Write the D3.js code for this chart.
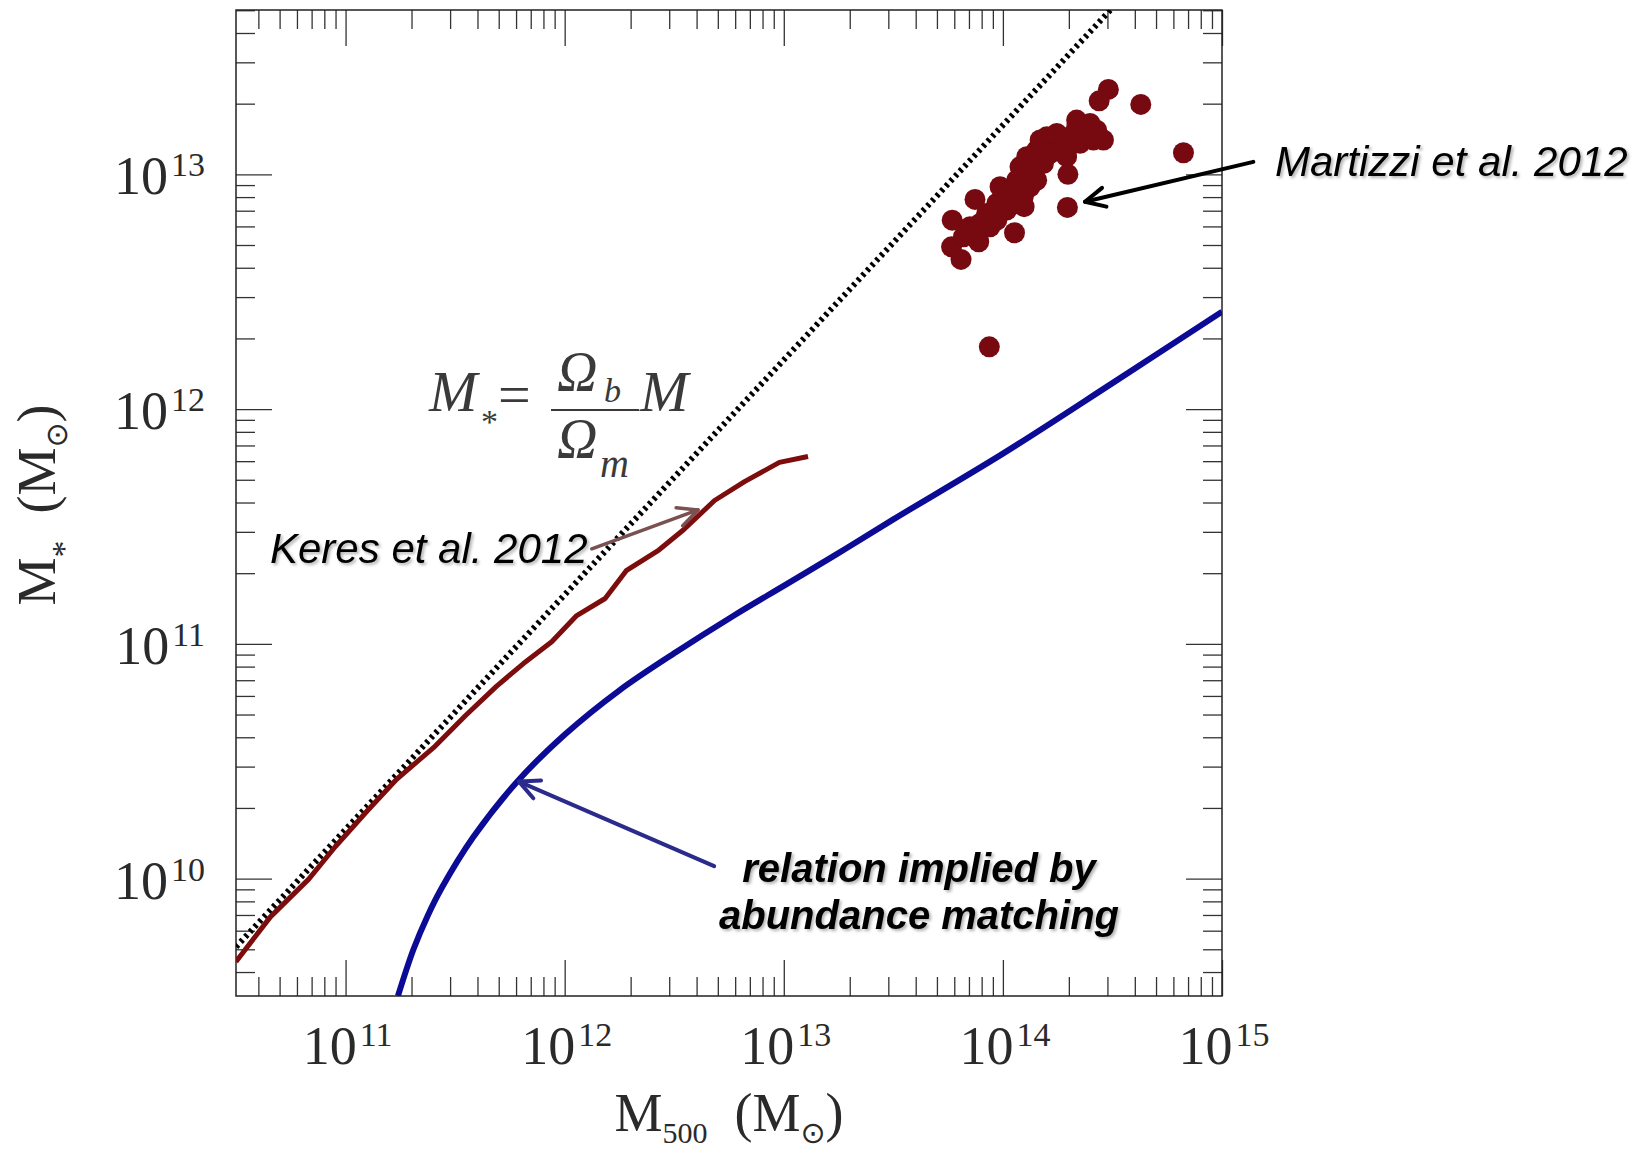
<!DOCTYPE html>
<html>
<head>
<meta charset="utf-8">
<script src="https://cdn.jsdelivr.net/npm/d3@7"></script>
<style>
	html, body { margin: 0; padding: 0; background: #fff; }
	svg { display: block; }
	.tick line { stroke: #333; stroke-width: 1.3; }
	.domain { display: none; }
	.tick-label { font-family: 'Liberation Serif', serif; fill: #2a2a2a; }
	.axis-title { font-family: 'Liberation Serif', serif; fill: #2a2a2a; }
	.formula { font-family: 'Liberation Serif', serif; font-style: italic; fill: #3a3a3a; }
	.note { font-family: 'Liberation Sans', Arial, sans-serif; font-style: italic; fill: #000; }
</style>
</head>
<body>
<svg id="chart" width="1650" height="1152"></svg>
<script>
(function () {
	'use strict';

	var margin = { left: 236, top: 10 };
	var width = 986;
	var height = 986;

	var xDomain = [3.162e10, 1e15];
	var yDomain = [3.162e9, 5.012e13];

	var xMajorTicks = [1e11, 1e12, 1e13, 1e14, 1e15];
	var yMajorTicks = [1e10, 1e11, 1e12, 1e13];
	var xTickExponents = ['11', '12', '13', '14', '15'];
	var yTickExponents = ['10', '11', '12', '13'];

	// M* = (Omega_b / Omega_m) M, read at the two ends
	var baryonM500 = [3.162e10, 1e15];
	var baryonMstar = [5.12e9, 1.62e14];

	// Keres et al. 2012
	var keresM500 = [3.16e10, 4.54e10, 6.79e10, 8.99e10, 1.26e11, 1.71e11, 2.56e11, 3.53e11, 4.88e11, 6.46e11,
		8.73e11, 1.135e12, 1.53e12, 1.91e12, 2.69e12, 3.50e12, 4.83e12, 6.65e12, 9.55e12, 1.29e13];
	var keresMstar = [4.43e9, 6.87e9, 9.95e9, 1.37e10, 1.95e10, 2.65e10, 3.66e10, 4.95e10, 6.59e10, 8.22e10,
		1.02e11, 1.32e11, 1.56e11, 2.05e11, 2.51e11, 3.07e11, 4.08e11, 4.92e11, 5.93e11, 6.28e11];

	// relation implied by abundance matching
	var abundanceM500 = [1.734e11, 2.042e11, 2.371e11, 2.754e11, 3.828e11, 6.081e11, 1.005e12, 1.766e12, 3.228e12,
		5.902e12, 1.035e13, 1.730e13, 3.162e13, 1e14, 3.162e14, 1e15];
	var abundanceMstar = [3.162e9, 5.00e9, 6.95e9, 9.16e9, 1.503e10, 2.594e10, 4.12e10, 6.31e10, 9.23e10,
		1.318e11, 1.80e11, 2.40e11, 3.39e11, 6.46e11, 1.29e12, 2.60e12];

	// Martizzi et al. 2012 clusters
	var martizziM500 = [3.03e14, 2.75e14, 4.26e14, 1.98e14, 1.97e14, 1.13e14, 6.44e13, 5.83e13, 5.87e13, 7.46e13,
		7.76e13, 1.25e14, 2.17e14, 2.68e14, 6.67e14, 8.67e13,
		6.61e13, 7.08e13, 8.43e13, 9.38e13, 9.71e13, 1.079e14, 1.156e14, 1.197e14, 1.285e14, 1.33e14,
		1.426e14, 1.479e14, 1.585e14, 1.641e14, 1.762e14, 1.888e14, 2.023e14, 2.173e14, 2.249e14, 2.415e14,
		2.50e14, 2.588e14, 1.04e14, 1.156e14, 8.73e13, 7.87e13, 1.426e14, 1.531e14, 1.33e14, 1.954e14,
		2.877e14, 1.239e14, 9.38e13];
	var martizziMstar = [2.30e13, 2.056e13, 1.986e13, 1.00e13, 7.23e12, 5.64e12, 4.34e12, 4.91e12, 6.38e12, 7.82e12,
		5.16e12, 7.28e12, 1.702e13, 1.542e13, 1.236e13, 1.841e12,
		5.42e12, 5.98e12, 6.81e12, 7.52e12, 8.85e12, 8.02e12, 9.44e12, 1.076e13, 1.189e13, 1.042e13,
		1.268e13, 1.40e13, 1.445e13, 1.227e13, 1.493e13, 1.309e13, 1.445e13, 1.596e13, 1.355e13, 1.493e13,
		1.648e13, 1.40e13, 7.05e12, 7.52e12, 5.98e12, 6.18e12, 9.44e12, 1.112e13, 8.85e12, 1.189e13,
		1.40e13, 8.02e12, 6.38e12];

	// arrows: tail and head in data units
	var arrows = [
		{ from: [1.39e15, 1.13e13], to: [2.37e14, 7.64e12], color: '#000', width: 4 },
		{ from: [1.33e12, 2.54e11], to: [4.06e12, 3.72e11], color: '#7a5050', width: 3.5 },
		{ from: [4.81e12, 1.13e10], to: [6.19e11, 2.59e10], color: '#2b2b8c', width: 4 }
	];

	var svg = d3.select('#chart');

	var defs = svg.append('defs');

	defs.append('clipPath')
		.attr('id', 'plot-clip')
		.append('rect')
		.attr('width', width)
		.attr('height', height);

	defs.append('filter')
		.attr('id', 'shadow')
		.attr('x', '-5%').attr('y', '-20%')
		.attr('width', '115%').attr('height', '150%')
		.append('feDropShadow')
		.attr('dx', 2)
		.attr('dy', 2)
		.attr('stdDeviation', 1.5)
		.attr('flood-color', '#000')
		.attr('flood-opacity', 0.3);

	var plot = svg.append('g')
		.attr('transform', 'translate(' + margin.left + ',' + margin.top + ')');

	var x = d3.scaleLog().domain(xDomain).range([0, width]);
	var y = d3.scaleLog().domain(yDomain).range([height, 0]);

	function isDecade(d) {
		var e = Math.log10(d);
		return Math.abs(e - Math.round(e)) < 1e-9;
	}

	var xMinor = x.ticks().filter(function (d) { return !isDecade(d); });
	var yMinor = y.ticks().filter(function (d) { return !isDecade(d); });

	// ticks on all four sides, pointing in
	function ticks(axis, scale, values, size, transform) {
		plot.append('g')
			.attr('transform', transform)
			.call(axis(scale).tickValues(values).tickSize(-size).tickSizeOuter(0).tickFormat(''));
	}

	[[xMinor, 19], [xMajorTicks, 36]].forEach(function (t) {
		ticks(d3.axisBottom, x, t[0], t[1], 'translate(0,' + height + ')');
		ticks(d3.axisTop, x, t[0], t[1], 'translate(0,0)');
	});
	[[yMinor, 19], [yMajorTicks, 36]].forEach(function (t) {
		ticks(d3.axisLeft, y, t[0], t[1], 'translate(0,0)');
		ticks(d3.axisRight, y, t[0], t[1], 'translate(' + width + ',0)');
	});

	plot.append('rect')
		.attr('width', width)
		.attr('height', height)
		.style('fill', 'none')
		.style('stroke', '#222')
		.style('stroke-width', 1.5);

	// tick labels, 10 with a raised exponent
	function powerLabel(sel, exponent) {
		sel.append('tspan')
			.style('font-size', '54px')
			.text('10');
		sel.append('tspan')
			.attr('dx', 3)
			.attr('dy', -18)
			.style('font-size', '34px')
			.text(exponent);
	}

	xMajorTicks.forEach(function (d, i) {
		plot.append('text')
			.classed('tick-label', true)
			.attr('x', x(d) + 2)
			.attr('y', 1054)
			.attr('text-anchor', 'middle')
			.call(powerLabel, xTickExponents[i]);
	});

	yMajorTicks.forEach(function (d, i) {
		plot.append('text')
			.classed('tick-label', true)
			.attr('x', -31)
			.attr('y', y(d) + 20)
			.attr('text-anchor', 'end')
			.call(powerLabel, yTickExponents[i]);
	});

	// axis titles
	function massTitle(sel, sub, subSize, subDrop) {
		sel.append('tspan').text('M');
		sel.append('tspan')
			.attr('dy', subDrop)
			.style('font-size', subSize + 'px')
			.text(sub);
		sel.append('tspan')
			.attr('dy', -subDrop)
			.text('\u00A0\u00A0(M');
		sel.append('tspan')
			.attr('dy', 12)
			.style('font-size', '30px')
			.style('font-family', 'DejaVu Sans')
			.text('\u2299');
		sel.append('tspan')
			.attr('dy', -12)
			.text(')');
	}

	svg.append('text')
		.classed('axis-title', true)
		.attr('x', 729)
		.attr('y', 1131)
		.attr('text-anchor', 'middle')
		.style('font-size', '54px')
		.call(massTitle, '500', 30, 12);

	svg.append('text')
		.classed('axis-title', true)
		.attr('transform', 'translate(55,505) rotate(-90)')
		.attr('text-anchor', 'middle')
		.style('font-size', '54px')
		.call(massTitle, '*', 34, 20);

	// curves
	var curves = plot.append('g').attr('clip-path', 'url(#plot-clip)');

	var line = d3.line()
		.x(function (d) { return x(d[0]); })
		.y(function (d) { return y(d[1]); });

	curves.append('path')
		.datum(d3.zip(baryonM500, baryonMstar))
		.attr('d', line)
		.style('fill', 'none')
		.style('stroke', '#000')
		.style('stroke-width', 6)
		.style('stroke-dasharray', '3,3.8');

	curves.append('path')
		.datum(d3.zip(keresM500, keresMstar))
		.attr('d', line)
		.style('fill', 'none')
		.style('stroke', '#7d0c0c')
		.style('stroke-width', 5)
		.style('stroke-linejoin', 'round');

	curves.append('path')
		.datum(d3.zip(abundanceM500, abundanceMstar))
		.attr('d', line.curve(d3.curveCatmullRom.alpha(0.5)))
		.style('fill', 'none')
		.style('stroke', '#0b0b96')
		.style('stroke-width', 6);

	curves.selectAll('.cluster')
		.data(d3.zip(martizziM500, martizziMstar))
		.enter()
		.append('circle')
		.classed('cluster', true)
		.attr('cx', function (d) { return x(d[0]); })
		.attr('cy', function (d) { return y(d[1]); })
		.attr('r', 10.5)
		.style('fill', '#760a10');

	// arrows with open heads
	arrows.forEach(function (a) {
		var x0 = x(a.from[0]), y0 = y(a.from[1]);
		var x1 = x(a.to[0]), y1 = y(a.to[1]);
		var ang = Math.atan2(y0 - y1, x0 - x1);
		var len = 22, spread = 26 * Math.PI / 180;
		var g = plot.append('g')
			.style('fill', 'none')
			.style('stroke', a.color)
			.style('stroke-width', a.width)
			.style('stroke-linecap', 'round')
			.style('stroke-linejoin', 'round');
		g.append('line')
			.attr('x1', x0).attr('y1', y0)
			.attr('x2', x1).attr('y2', y1);
		g.append('path')
			.attr('d', 'M' + (x1 + len * Math.cos(ang + spread)) + ',' + (y1 + len * Math.sin(ang + spread)) +
				'L' + x1 + ',' + y1 +
				'L' + (x1 + len * Math.cos(ang - spread)) + ',' + (y1 + len * Math.sin(ang - spread)));
	});

	// formula M* = Omega_b / Omega_m M
	var formula = svg.append('g').classed('formula', true);

	formula.append('text').attr('x', 429).attr('y', 411).style('font-size', '58px').text('M');
	formula.append('text').attr('x', 481).attr('y', 433).style('font-size', '34px').style('font-style', 'normal').text('*');
	formula.append('text').attr('x', 498).attr('y', 414).style('font-size', '58px').style('font-style', 'normal').text('=');
	formula.append('text').attr('x', 557).attr('y', 391).style('font-size', '56px').text('\u03A9');
	formula.append('text').attr('x', 604).attr('y', 402).style('font-size', '34px').text('b');
	formula.append('line')
		.attr('x1', 551).attr('x2', 639)
		.attr('y1', 410).attr('y2', 410)
		.style('stroke', '#3a3a3a')
		.style('stroke-width', 2);
	formula.append('text').attr('x', 640).attr('y', 411).style('font-size', '58px').text('M');
	formula.append('text').attr('x', 557).attr('y', 458).style('font-size', '56px').text('\u03A9');
	formula.append('text').attr('x', 600).attr('y', 477).style('font-size', '40px').text('m');

	// notes
	svg.append('text')
		.classed('note', true)
		.attr('x', 270)
		.attr('y', 563)
		.style('font-size', '42px')
		.style('filter', 'url(#shadow)')
		.text('Keres et al. 2012');

	svg.append('text')
		.classed('note', true)
		.attr('x', 1275)
		.attr('y', 176)
		.style('font-size', '42px')
		.style('filter', 'url(#shadow)')
		.text('Martizzi et al. 2012');

	['relation implied by', 'abundance matching'].forEach(function (t, i) {
		svg.append('text')
			.classed('note', true)
			.attr('x', 919)
			.attr('y', 882 + i * 47)
			.attr('text-anchor', 'middle')
			.style('font-size', '40px')
			.style('font-weight', 'bold')
			.style('filter', 'url(#shadow)')
			.text(t);
	});
}());
</script>
</body>
</html>
